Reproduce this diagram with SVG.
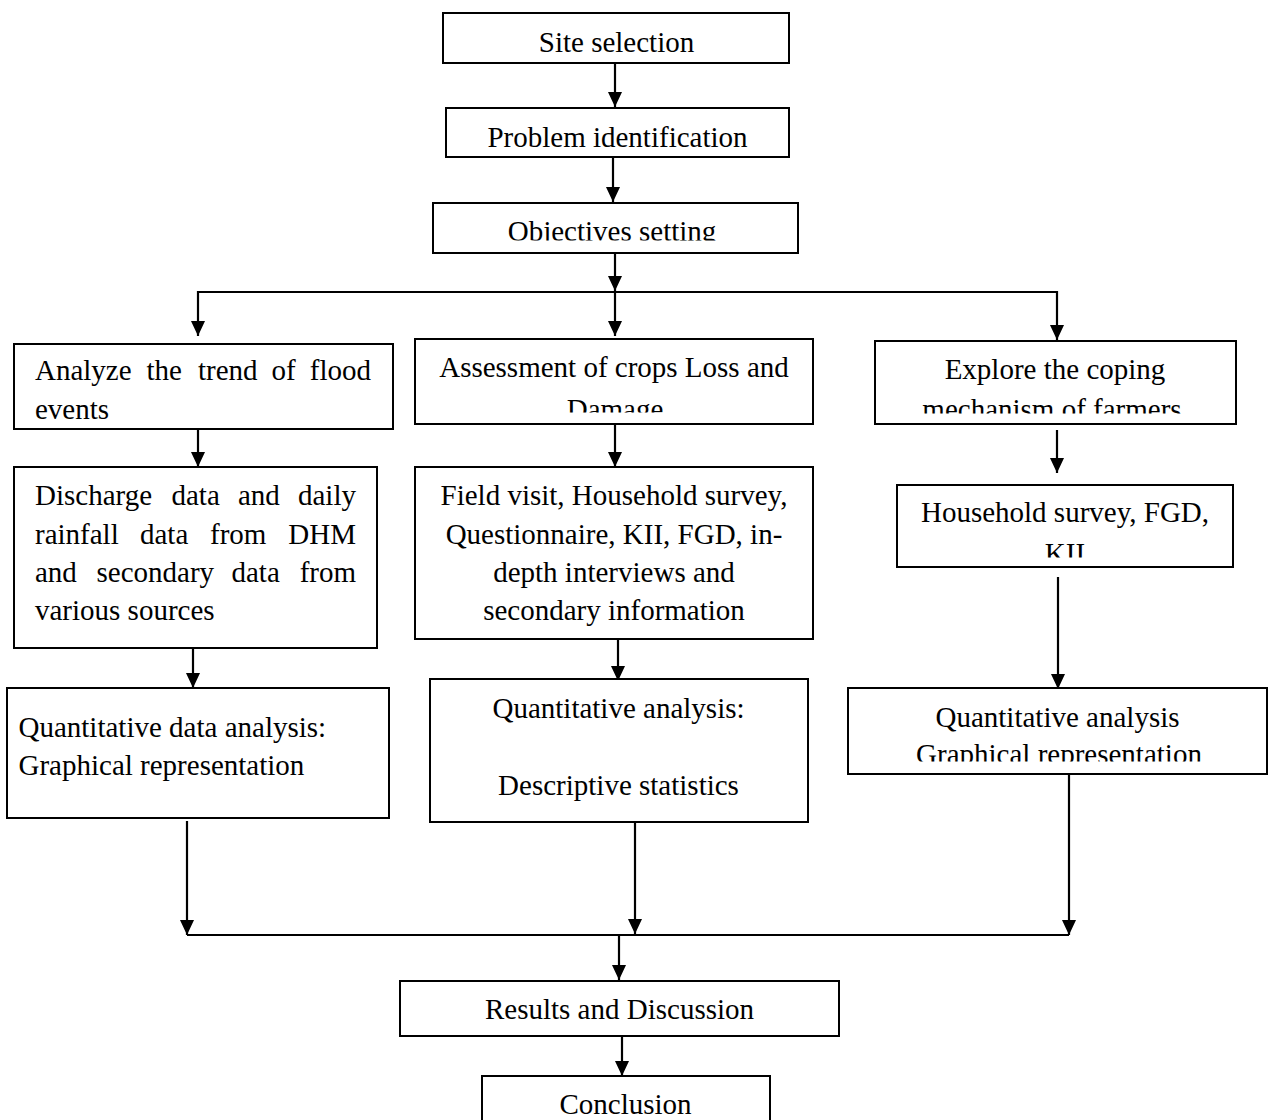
<svg xmlns="http://www.w3.org/2000/svg" width="1270" height="1120" viewBox="0 0 1270 1120">
<style>
.box{fill:#fff;stroke:#000;stroke-width:2}
.t{font-family:"Liberation Serif","Times New Roman",serif;font-size:29px;fill:#000}
.c{text-anchor:middle}
.e{text-anchor:end}
.ln{stroke:#000;stroke-width:2.2;fill:none}
</style>
<defs>
<marker id="ah" markerUnits="userSpaceOnUse" markerWidth="15" markerHeight="14" refX="15" refY="7" orient="auto">
<path d="M0,0 L15,7 L0,14 z" fill="#000"/>
</marker>
<clipPath id="cObj" clipPathUnits="userSpaceOnUse"><rect x="433" y="203" width="365" height="37.5"/></clipPath>
<clipPath id="cDam" clipPathUnits="userSpaceOnUse"><rect x="415" y="339" width="398" height="73.5"/></clipPath>
<clipPath id="cMech" clipPathUnits="userSpaceOnUse"><rect x="875" y="341" width="361" height="72.5"/></clipPath>
<clipPath id="cKII" clipPathUnits="userSpaceOnUse"><rect x="897" y="485" width="336" height="72.5"/></clipPath>
<clipPath id="cGra" clipPathUnits="userSpaceOnUse"><rect x="848" y="688" width="419" height="73.5"/></clipPath>
</defs>
<rect width="1270" height="1120" fill="#fff"/>

<g id="connectors">
<line class="ln" x1="615" y1="63" x2="615" y2="107" marker-end="url(#ah)"/>
<line class="ln" x1="613" y1="157" x2="613" y2="202" marker-end="url(#ah)"/>
<line class="ln" x1="615" y1="248" x2="615" y2="291" marker-end="url(#ah)"/>
<line class="ln" x1="615" y1="291" x2="615" y2="336" marker-end="url(#ah)"/>
<line class="ln" x1="198" y1="292" x2="1057" y2="292"/>
<line class="ln" x1="198" y1="291" x2="198" y2="336" marker-end="url(#ah)"/>
<line class="ln" x1="1057" y1="291" x2="1057" y2="340" marker-end="url(#ah)"/>
<line class="ln" x1="198" y1="423" x2="198" y2="467" marker-end="url(#ah)"/>
<line class="ln" x1="615" y1="424" x2="615" y2="467" marker-end="url(#ah)"/>
<line class="ln" x1="1057" y1="430" x2="1057" y2="473" marker-end="url(#ah)"/>
<line class="ln" x1="193" y1="648" x2="193" y2="688" marker-end="url(#ah)"/>
<line class="ln" x1="618" y1="638" x2="618" y2="681" marker-end="url(#ah)"/>
<line class="ln" x1="1058" y1="577" x2="1058" y2="689" marker-end="url(#ah)"/>
<line class="ln" x1="187" y1="821" x2="187" y2="935" marker-end="url(#ah)"/>
<line class="ln" x1="635" y1="821" x2="635" y2="934" marker-end="url(#ah)"/>
<line class="ln" x1="1069" y1="774" x2="1069" y2="935" marker-end="url(#ah)"/>
<line class="ln" x1="187" y1="935" x2="1069" y2="935"/>
<line class="ln" x1="619" y1="935" x2="619" y2="980" marker-end="url(#ah)"/>
<line class="ln" x1="622" y1="1033" x2="622" y2="1076" marker-end="url(#ah)"/>
</g>

<g id="site">
<rect class="box" x="443" y="13" width="346" height="50"/>
<text class="t c" x="616.5" y="52">Site selection</text>
</g>
<g id="problem">
<rect class="box" x="446" y="108" width="343" height="49"/>
<text class="t c" x="617.5" y="147">Problem identification</text>
</g>
<g id="objectives">
<rect class="box" x="433" y="203" width="365" height="50"/>
<text class="t c" x="612" y="240.5" clip-path="url(#cObj)">Objectives setting</text>
</g>
<g id="analyze">
<rect class="box" x="14" y="344" width="379" height="85"/>
<text class="t" y="380"><tspan x="35">Analyze</tspan><tspan x="146.5">the</tspan><tspan x="198">trend</tspan><tspan x="271.5">of</tspan></text>
<text class="t e" x="371" y="380">flood</text>
<text class="t" x="35" y="418.5">events</text>
</g>
<g id="assessment">
<rect class="box" x="415" y="339" width="398" height="85"/>
<text class="t c" x="614" y="377">Assessment of crops Loss and</text>
<text class="t c" x="615" y="419" clip-path="url(#cDam)">Damage</text>
</g>
<g id="explore">
<rect class="box" x="875" y="341" width="361" height="83"/>
<text class="t c" x="1055" y="378.5">Explore the coping</text>
<text class="t c" x="1052" y="419" clip-path="url(#cMech)">mechanism of farmers</text>
</g>
<g id="discharge">
<rect class="box" x="14" y="467" width="363" height="181"/>
<text class="t" y="505"><tspan x="35">Discharge</tspan><tspan x="171.5">data</tspan><tspan x="238">and</tspan></text>
<text class="t e" x="356" y="505">daily</text>
<text class="t" y="543.5"><tspan x="35">rainfall</tspan><tspan x="140">data</tspan><tspan x="210">from</tspan></text>
<text class="t e" x="356" y="543.5">DHM</text>
<text class="t" y="582"><tspan x="35">and</tspan><tspan x="96.5">secondary</tspan><tspan x="231.5">data</tspan></text>
<text class="t e" x="356" y="582">from</text>
<text class="t" x="35" y="620">various sources</text>
</g>
<g id="fieldvisit">
<rect class="box" x="415" y="467" width="398" height="172"/>
<text class="t c" x="614" y="505">Field visit, Household survey,</text>
<text class="t c" x="614" y="543.5">Questionnaire, KII, FGD, in-</text>
<text class="t c" x="614" y="582">depth interviews and</text>
<text class="t c" x="614" y="620">secondary information</text>
</g>
<g id="household">
<rect class="box" x="897" y="485" width="336" height="82"/>
<text class="t c" x="1065" y="522">Household survey, FGD,</text>
<text class="t c" x="1065" y="562.5" clip-path="url(#cKII)">KII</text>
</g>
<g id="quantleft">
<rect class="box" x="7" y="688" width="382" height="130"/>
<text class="t" x="18.5" y="737">Quantitative data analysis:</text>
<text class="t" x="18.5" y="775">Graphical representation</text>
</g>
<g id="quantmid">
<rect class="box" x="430" y="679" width="378" height="143"/>
<text class="t c" x="618.5" y="717.5">Quantitative analysis:</text>
<text class="t c" x="618.5" y="795">Descriptive statistics</text>
</g>
<g id="quantright">
<rect class="box" x="848" y="688" width="419" height="86"/>
<text class="t c" x="1057.5" y="727">Quantitative analysis</text>
<text class="t c" x="1059" y="764" clip-path="url(#cGra)">Graphical representation</text>
</g>
<g id="results">
<rect class="box" x="400" y="981" width="439" height="55"/>
<text class="t c" x="619.5" y="1019">Results and Discussion</text>
</g>
<g id="conclusion">
<rect class="box" x="482" y="1076" width="288" height="60"/>
<text class="t c" x="625.5" y="1113.5">Conclusion</text>
</g>
</svg>
